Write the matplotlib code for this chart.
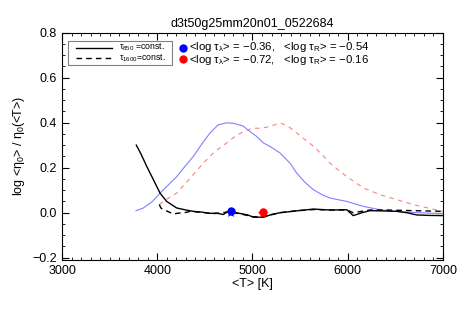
import numpy as np
import matplotlib
matplotlib.use('Agg')
import matplotlib.pyplot as plt
from matplotlib.ticker import MultipleLocator

plt.rcParams['font.family'] = ['Liberation Sans', 'DejaVu Sans']
plt.rcParams['mathtext.fontset'] = 'custom'
plt.rcParams['mathtext.rm'] = 'Liberation Sans'
plt.rcParams['mathtext.it'] = 'Liberation Sans'

# data
t_solid = [3780, 3830, 3889, 3959, 4029, 4099, 4204, 4300, 4379, 4460, 4554, 4620, 4694, 4730,
           4764, 4850, 4950, 5009, 5115, 5200, 5289, 5400, 5500, 5640, 5815, 5990, 6058, 6150,
           6233, 6350, 6513, 6620, 6724, 6850, 7003]
v_solid = [0.30, 0.26, 0.206, 0.147, 0.087, 0.05, 0.021, 0.012, 0.006, 0.003, -0.003, -0.002,
           -0.008, 0.002, 0.004, -0.002, -0.01, -0.02, -0.02, -0.008, 0.0, 0.005, 0.01, 0.016,
           0.012, 0.013, -0.013, 0.0, 0.009, 0.008, 0.006, 0.0, -0.01, -0.012, -0.013]

t_dash = [4021, 4040, 4064, 4120, 4169, 4220, 4274, 4350, 4450, 4600, 4764, 4900, 5009, 5115,
          5289, 5450, 5640, 5815, 5990, 6058, 6233, 6400, 6600, 6800, 7003]
v_dash = [0.036, 0.02, 0.013, 0.004, -0.006, -0.002, -0.001, 0.006, 0.002, -0.004, 0.004, -0.008,
          -0.018, -0.018, 0.0, 0.008, 0.014, 0.012, 0.012, 0.0, 0.012, 0.012, 0.01, 0.008, 0.006]

t_blue = [3777, 3850, 3950, 4029, 4120, 4204, 4290, 4379, 4460, 4554, 4640, 4729, 4800, 4900,
          4974, 5040, 5114, 5200, 5289, 5394, 5464, 5550, 5640, 5730, 5814, 5990, 6165, 6339,
          6500, 6689, 6850, 7003]
v_blue = [0.009, 0.02, 0.05, 0.087, 0.125, 0.16, 0.205, 0.25, 0.30, 0.354, 0.39, 0.399, 0.397,
          0.385, 0.36, 0.34, 0.31, 0.29, 0.265, 0.22, 0.176, 0.135, 0.102, 0.08, 0.065, 0.05,
          0.028, 0.013, 0.006, 0.001, -0.002, -0.004]

t_red = [4021, 4100, 4204, 4350, 4484, 4600, 4729, 4820, 4904, 5000, 5100, 5200, 5289, 5370,
         5464, 5550, 5640, 5730, 5814, 5900, 5990, 6165, 6339, 6514, 6689, 6850, 7003]
v_red = [0.036, 0.06, 0.087, 0.155, 0.22, 0.27, 0.31, 0.34, 0.36, 0.375, 0.375, 0.385, 0.399,
         0.385, 0.354, 0.325, 0.295, 0.258, 0.22, 0.19, 0.16, 0.11, 0.08, 0.058, 0.036, 0.02,
         0.006]

blue_pt = (4770, 0.008)
red_pt = (5115, 0.002)

fig = plt.figure(figsize=(4.58, 3.09), dpi=100)
ax = fig.add_axes([0.1354, 0.1586, 0.8318, 0.7362])

ax.plot(t_blue, v_blue, color='#8080ff', lw=0.8)
ax.plot(t_red, v_red, color='#ff8080', lw=0.8, ls=(0, (4, 4)))
ax.plot(t_solid, v_solid, color='black', lw=1.0)
ax.plot(t_dash, v_dash, color='black', lw=1.0, ls=(0, (4, 3)))

ax.plot(blue_pt[0], blue_pt[1] - 0.008, marker='*', color='blue', ms=8, mew=0)
ax.plot(blue_pt[0], blue_pt[1], marker='o', color='blue', ms=6, mew=0)
ax.plot(red_pt[0], red_pt[1] - 0.01, marker='*', color='red', ms=8, mew=0)
ax.plot(red_pt[0], red_pt[1], marker='o', color='red', ms=6, mew=0)

ax.set_xlim(3000, 7000)
ax.set_ylim(-0.21, 0.8)
ax.xaxis.set_major_locator(MultipleLocator(1000))
ax.xaxis.set_minor_locator(MultipleLocator(100))
ax.yaxis.set_major_locator(MultipleLocator(0.2))
ax.yaxis.set_minor_locator(MultipleLocator(0.05))
ax.tick_params(which='both', direction='in', top=True, right=True, labelsize=9)
ax.tick_params(which='major', length=5)
ax.tick_params(which='minor', length=2.5)
ax.yaxis.set_major_formatter(plt.FuncFormatter(lambda v, p: ('%.1f' % v).replace('-', '\u2212')))

ax.set_title('d3t50g25mm20n01_0522684', fontsize=9, pad=4)
ax.set_xlabel('<T> [K]', fontsize=9, labelpad=1)
ax.set_ylabel(r'log <$\eta_0$> / $\eta_0$(<T>)', fontsize=9, labelpad=4)

# legend box for line styles
lg_x = [0.037, 0.132]
ax.add_patch(plt.Rectangle((0.015, 0.858), 0.274, 0.105, transform=ax.transAxes,
                           fill=False, edgecolor='gray', lw=0.8))
ax.plot(lg_x, [0.932, 0.932], transform=ax.transAxes, color='black', lw=1.0)
ax.plot(lg_x, [0.886, 0.886], transform=ax.transAxes, color='black', lw=1.0, ls=(0, (4, 3)))
ax.text(0.150, 0.910, '$\\tau_{850}$ =const.\n$\\tau_{1600}$=const.', transform=ax.transAxes,
        fontsize=6.3, va='center', linespacing=1.0)

ax.plot(0.318, 0.930, transform=ax.transAxes, marker='o', color='blue', ms=6, mew=0)
ax.plot(0.318, 0.884, transform=ax.transAxes, marker='o', color='red', ms=6, mew=0)
ax.text(0.333, 0.908,
        '<log $\\tau_\\lambda$> = \u22120.36,   <log $\\tau_R$> = \u22120.54\n'
        '<log $\\tau_\\lambda$> = \u22120.72,   <log $\\tau_R$> = \u22120.16',
        transform=ax.transAxes, fontsize=8.2, va='center', linespacing=0.95)

fig.savefig('out.png', dpi=100)
